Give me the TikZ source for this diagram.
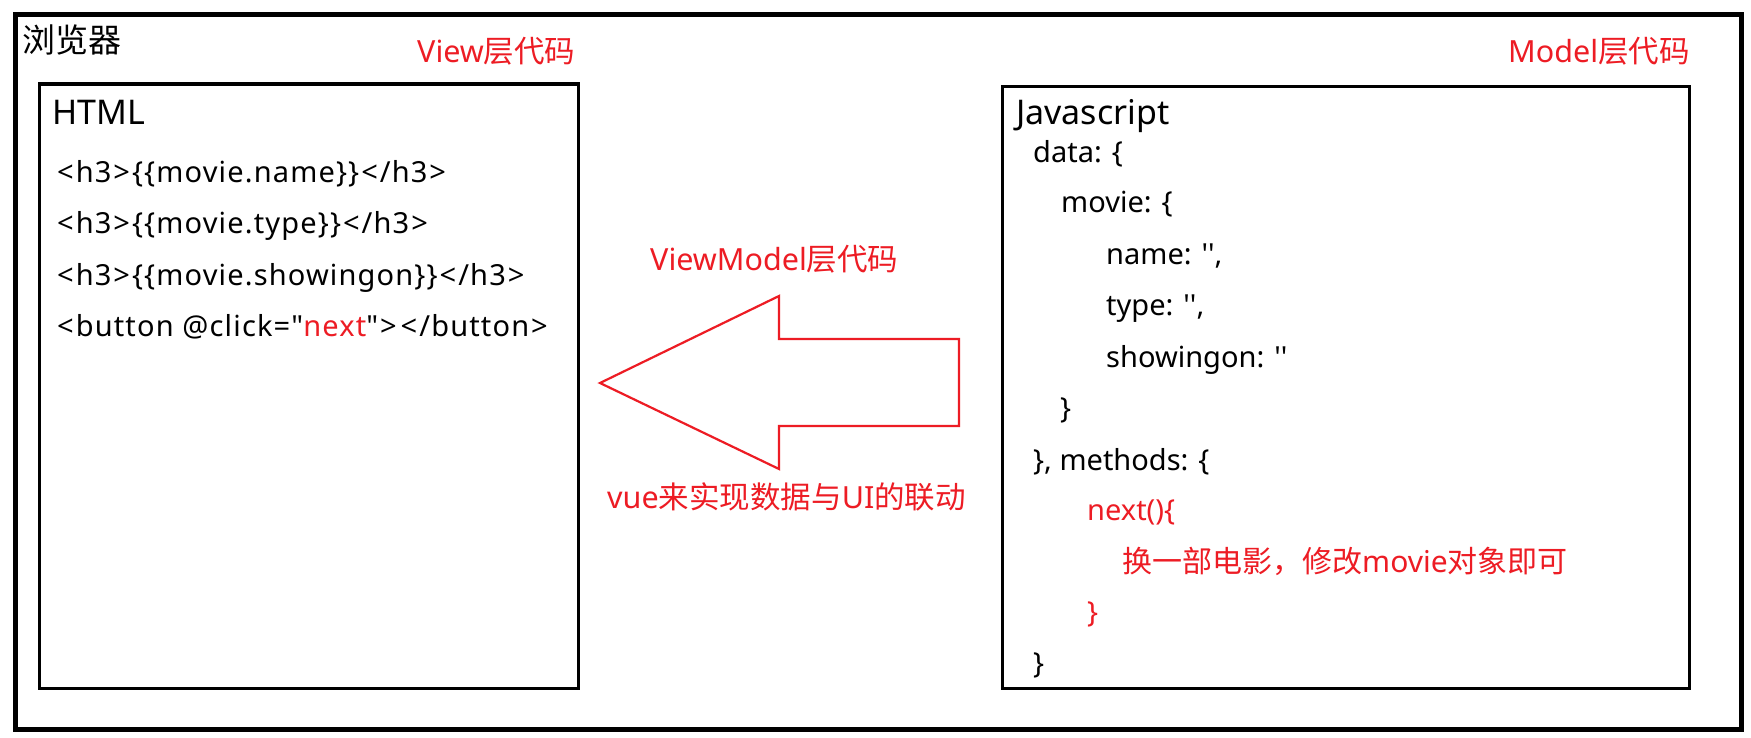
\documentclass[tikz,border=0pt]{standalone}
\usepackage{fontspec}
\setmainfont{Noto Sans}[Ligatures=TeXOff]
\newfontfamily\cjk{Noto Sans CJK SC}[Ligatures=TeXOff]
\newfontfamily\codefont{Noto Sans}[Ligatures=TeXOff,LetterSpace=4]
\definecolor{vred}{HTML}{ED1C24}
\newcommand{\lt}{\kern2pt<\kern2pt}
\newcommand{\gt}{\kern2pt>\kern2pt}
\begin{document}
\begin{tikzpicture}[x=1pt,y=-1pt,
  txt/.style={anchor=base west,inner sep=0pt,font=\fontsize{29}{32}\selectfont},
  ltxt/.style={anchor=base west,inner sep=0pt,font=\codefont\fontsize{29}{32}\selectfont},
  big/.style={anchor=base west,inner sep=0pt,font=\fontsize{34}{38}\selectfont},
  redt/.style={anchor=base west,inner sep=0pt,font=\fontsize{30.5}{34}\selectfont,text=vred},
  panel/.style={draw=black,line width=3.4pt,anchor=north west,inner sep=0pt}]
\useasboundingbox (0,0) rectangle (1751,738);
\fill[white] (0,0) rectangle (1751,738);
% outer frame
\node[draw=black,line width=5pt,anchor=north west,inner sep=0pt,minimum width=1726pt,minimum height=714.5pt] (browser) at (12.5,12) {};
\node[panel,minimum width=538.5pt,minimum height=604pt] (html) at (38,82.5) {};
\node[panel,minimum width=687pt,minimum height=602pt] (js) at (1001,85) {};
% titles
\node[anchor=base west,inner sep=0pt,font=\cjk\fontsize{33}{36}\selectfont] (ttl) at (22,53) {浏览器};
\node[redt] (tview) at (417,63) {View{\cjk 层代码}};
\node[redt] (tmodel) at (1508,63) {Model{\cjk 层代码}};
% left code
\node[big] (lh) at (52,125) {HTML};
\node[ltxt] (l1) at (55,183) {\lt h3\gt\{\{movie.name\}\}\lt/h3\gt};
\node[ltxt] (l2) at (55,234) {\lt h3\gt\{\{movie.type\}\}\lt/h3\gt};
\node[ltxt] (l3) at (55,285) {\lt h3\gt\{\{movie.showingon\}\}\lt/h3\gt};
\node[ltxt] (l4) at (55,336) {\lt button @click="\textcolor{vred}{next}"\gt\lt/button\gt};
% right code
\node[big] (rj) at (1016,125) {Javascript};
\node[txt] (r1) at (1033,163) {data: \{};
\node[txt] (r2) at (1061,213) {movie: \{};
\node[txt] (r3) at (1106,265) {name: '',};
\node[txt] (r4) at (1106,315) {type: '',};
\node[txt] (r5) at (1106,367) {showingon: ''};
\node[txt] (r6) at (1060,418) {\}};
\node[txt] (r7) at (1033,470) {\}, methods: \{};
\node[txt,text=vred] (r8) at (1087,520) {next()\{};
\node[txt,text=vred,font=\fontsize{30}{34}\selectfont] (r9) at (1122,572) {{\cjk 换一部电影，修改}movie{\cjk 对象即可}};
\node[txt,text=vred] (r10) at (1087,622) {\}};
\node[txt] (r11) at (1033,673) {\}};
% arrow
\draw[vred,line width=2.2pt,line join=miter] (600,383) -- (779,296) -- (779,339) -- (959,339) -- (959,426) -- (779,426) -- (779,469) -- cycle;
\node[redt] (tvm) at (650,270) {ViewModel{\cjk 层代码}};
\node[redt] (tvue) at (607,508) {vue{\cjk 来实现数据与}UI{\cjk 的联动}};
\end{tikzpicture}
\end{document}
